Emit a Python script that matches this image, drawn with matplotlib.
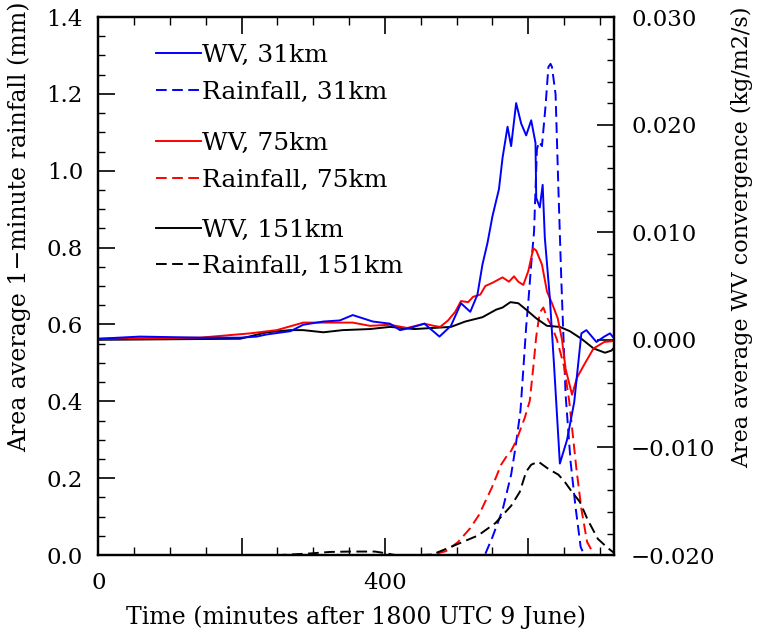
import numpy as np
import matplotlib
matplotlib.use("Agg")
import matplotlib.pyplot as plt
from matplotlib.legend import Legend
from matplotlib.ticker import MultipleLocator, FixedLocator, FixedFormatter, FormatStrFormatter, FuncFormatter

plt.rcParams['font.family'] = ['DejaVu Serif']

# WV convergence (kg/m2/s), right axis
wv31_t = [0, 58, 142, 198, 221, 235, 268, 286, 314, 337, 355, 369, 383, 407, 421, 435, 455,
          476, 492, 506, 519, 529, 536, 543, 550, 559, 564, 571, 576, 583, 590, 597, 604, 610,
          611, 616, 620, 623, 630, 636, 644, 654, 664, 674, 681, 695, 706, 714, 720]
wv31_v = [0.0001, 0.0003, 0.0002, 0.0002, 0.0003, 0.0005, 0.0008, 0.0014, 0.0017, 0.0018,
          0.0023, 0.0020, 0.0017, 0.0015, 0.0009, 0.0011, 0.0015, 0.0003, 0.0013, 0.0034,
          0.0026, 0.0042, 0.0070, 0.0090, 0.0115, 0.0140, 0.0169, 0.0198, 0.0180, 0.0220,
          0.0201, 0.0190, 0.0204, 0.0183, 0.0132, 0.0123, 0.0144, 0.0095, 0.0039, -0.0025,
          -0.0115, -0.0093, -0.0058, 0.0006, 0.0009, -0.0002, 0.0003, 0.0006, 0.0001]

wv75_t = [0, 142, 212, 249, 286, 314, 341, 355, 379, 407, 431, 455, 468, 477, 488, 498, 506,
          516, 523, 533, 540, 550, 564, 573, 580, 586, 593, 600, 607, 611, 619, 626, 633, 641,
          647, 652, 661, 668, 678, 691, 706, 720]
wv75_v = [0.0001, 0.0002, 0.0006, 0.0009, 0.0016, 0.0016, 0.0016, 0.0016, 0.0013, 0.0014,
          0.0011, 0.0015, 0.0013, 0.0012, 0.0018, 0.0026, 0.0036, 0.0035, 0.0040, 0.0042,
          0.0050, 0.0053, 0.0058, 0.0054, 0.0059, 0.0054, 0.0051, 0.0064, 0.0085, 0.0083,
          0.0070, 0.0045, 0.0034, 0.0020, 0.0000, -0.0027, -0.0051, -0.0035, -0.0023,
          -0.0008, -0.0002, -0.0001]

wv151_t = [0, 198, 235, 268, 286, 314, 341, 379, 407, 441, 492, 512, 536, 555, 564, 575, 586,
           597, 611, 626, 644, 658, 674, 691, 707, 716, 720]
wv151_v = [0.0000, 0.0001, 0.0007, 0.0009, 0.0009, 0.0007, 0.0009, 0.0010, 0.0012, 0.0010,
           0.0012, 0.0017, 0.0021, 0.0028, 0.0030, 0.0035, 0.0034, 0.0028, 0.0020, 0.0013,
           0.0012, 0.0008, 0.0001, -0.0008, -0.0012, -0.0010, -0.0007]

# area average 1-minute rainfall (mm), left axis
rain31_t = [0, 533, 540, 550, 564, 576, 582, 589, 593, 597, 600, 604, 608, 612, 615, 619, 624,
            628, 631, 633, 638, 642, 646, 652, 659, 666, 673, 678, 720]
rain31_v = [0, 0, 0.003, 0.047, 0.117, 0.209, 0.279, 0.375, 0.483, 0.594, 0.659, 0.756, 0.842,
            1.056, 1.075, 1.064, 1.168, 1.270, 1.278, 1.270, 1.199, 0.951, 0.717, 0.417,
            0.242, 0.123, 0.021, 0, 0]

rain75_t = [0, 449, 468, 485, 502, 519, 531, 549, 562, 569, 576, 583, 595, 602, 607, 611, 616,
            621, 626, 633, 640, 650, 657, 667, 674, 682, 692, 720]
rain75_v = [0, 0, 0.002, 0.010, 0.034, 0.070, 0.104, 0.175, 0.235, 0.255, 0.271, 0.297, 0.357,
            0.401, 0.490, 0.568, 0.631, 0.644, 0.618, 0.594, 0.560, 0.490, 0.401, 0.226,
            0.120, 0.034, 0, 0]

rain151_t = [0, 254, 295, 323, 351, 386, 400, 414, 449, 464, 488, 530, 554, 576, 588, 597, 604,
             614, 628, 642, 651, 661, 672, 683, 697, 711, 720]
rain151_v = [0, 0, 0.004, 0.008, 0.009, 0.009, 0.005, 0, 0, 0, 0.018, 0.051, 0.083, 0.128,
             0.164, 0.217, 0.235, 0.243, 0.224, 0.209, 0.190, 0.164, 0.138, 0.091, 0.042,
             0.018, 0.005]

fig = plt.figure(figsize=(7.59, 6.32), dpi=100)
ax = fig.add_axes([0.1295, 0.1218, 0.6799, 0.8513])
ax2 = ax.twinx()

lw = 1.4
dash = (5.5, 2.8)
ax.plot(rain31_t, rain31_v, color='#0000ff', lw=lw, dashes=dash)
ax.plot(rain75_t, rain75_v, color='#ff0000', lw=lw, dashes=dash)
ax.plot(rain151_t, rain151_v, color='black', lw=lw, dashes=dash)
ax2.plot(wv151_t, wv151_v, color='black', lw=lw)
ax2.plot(wv75_t, wv75_v, color='#ff0000', lw=lw)
ax2.plot(wv31_t, wv31_v, color='#0000ff', lw=lw)

ax.set_xlim(0, 720)
ax.set_ylim(0, 1.4)
ax2.set_ylim(-0.02, 0.03)

fs = 16.5
ax.xaxis.set_major_locator(FixedLocator([0, 200, 400, 600]))
ax.xaxis.set_major_formatter(FixedFormatter(['0', '', '400', '']))
ax.xaxis.set_minor_locator(MultipleLocator(50))
ax.yaxis.set_major_locator(MultipleLocator(0.2))
ax.yaxis.set_minor_locator(MultipleLocator(0.05))
ax.yaxis.set_major_formatter(FormatStrFormatter('%.1f'))
ax2.yaxis.set_major_locator(MultipleLocator(0.01))
ax2.yaxis.set_minor_locator(MultipleLocator(0.002))
ax2.yaxis.set_major_formatter(FuncFormatter(lambda v, p: ('%.3f' % v).replace('-', '\u2212')))

ax.tick_params(axis='x', which='both', direction='in', top=True, bottom=True)
ax.tick_params(axis='x', which='major', length=12, width=1.2, labelsize=fs, pad=12)
ax.tick_params(axis='x', which='minor', length=6, width=1.0)
ax.tick_params(axis='y', which='both', direction='in', left=True, right=False)
ax.tick_params(axis='y', which='major', length=12, width=1.2, labelsize=fs, pad=11)
ax.tick_params(axis='y', which='minor', length=5, width=1.0)
ax2.tick_params(axis='y', which='both', direction='in', right=True)
ax2.tick_params(axis='y', which='major', length=12, width=1.2, labelsize=fs, pad=12)
ax2.tick_params(axis='y', which='minor', length=5, width=1.0)

for a in (ax, ax2):
    for s in a.spines.values():
        s.set_linewidth(1.6)

lfs = 17
ax.set_xlabel('Time (minutes after 1800 UTC 9 June)', fontsize=lfs)
ax.set_ylabel('Area average 1\u2212minute rainfall (mm)', fontsize=lfs)
ax2.set_ylabel('Area average WV convergence (kg/m2/s)', fontsize=16)
ax.xaxis.set_label_coords(0.5, -0.094)
ax.yaxis.set_label_coords(-0.13, 0.61)
ax2.yaxis.set_label_coords(1.226, 0.59)

# legend, three groups of two
groups = [
    ('#0000ff', '31km', 0.894),
    ('#ff0000', '75km', 0.731),
    ('black', '151km', 0.570),
]
for color, res, ypos in groups:
    h1, = ax.plot([], [], color=color, lw=lw)
    h2, = ax.plot([], [], color=color, lw=lw, dashes=dash)
    leg = Legend(ax, [h1, h2], ['WV, ' + res, 'Rainfall, ' + res],
                 loc='center left', bbox_to_anchor=(0.111, ypos),
                 frameon=False, fontsize=18, handlelength=1.8,
                 handletextpad=0.05, labelspacing=0.55,
                 borderpad=0, borderaxespad=0)
    ax.add_artist(leg)

fig.savefig('out.png', dpi=100)
